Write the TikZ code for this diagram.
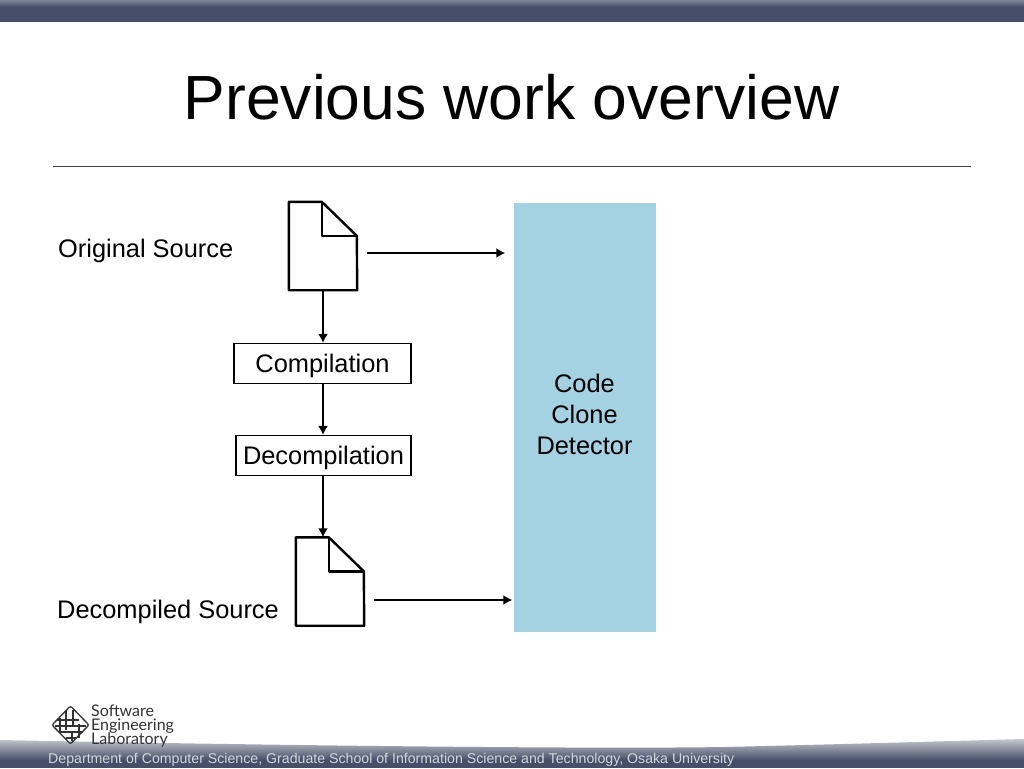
\documentclass[tikz,border=0pt]{standalone}
\usepackage{fontspec}
\setmainfont{Liberation Sans}
\newfontfamily\logofont{Lato}
\usetikzlibrary{calc,arrows.meta}
\definecolor{barblue}{HTML}{464F68}
\definecolor{barlight}{HTML}{7E869C}
\definecolor{fadegrey}{HTML}{C4C7CE}
\definecolor{detectorblue}{HTML}{A5D2E3}
\definecolor{footgrey}{HTML}{D3D6DD}
\tikzset{
  labeltext/.style={font=\fontsize{25.4}{31}\selectfont,inner sep=0pt,align=center},
  stepbox/.style={draw=black,line width=1.1pt,fill=white,labeltext,minimum height=40pt,text height=19pt,text depth=2pt},
  docbox/.style={minimum width=68pt,minimum height=88pt,inner sep=0pt},
  docline/.style={draw=black,line width=2.4pt,line join=round},
  flow/.style={draw=black,line width=2.4pt,-{Latex[length=9pt,width=10pt]}},
  logotext/.style={anchor=base west,inner sep=0pt,text=black!80,font=\logofont\fontsize{16}{14}\selectfont},
}
\newcommand{\docicon}[1]{
  \draw[docline] (#1.north west) -- ++(33,0) -- ++(35,34) -- (#1.south east) -- (#1.south west) -- cycle;
  \draw[docline] ($(#1.north west)+(33,0)$) -- ++(0,34) -- ++(35,0);
}
\begin{document}
\begin{tikzpicture}[x=1pt,y=-1pt]
  \useasboundingbox (0,0) rectangle (1024,768);
  \fill[white] (0,0) rectangle (1024,768);
  % top bar
  \shade[top color=barlight,bottom color=barblue] (0,0) rectangle (1024,7);
  \fill[barblue] (0,7) rectangle (1024,22);
  % bottom band
  \shade[top color=fadegrey,bottom color=barblue] (0,740) .. controls (300,746) and (600,749) .. (724,747) .. controls (850,744) and (950,741) .. (1024,739) -- (1024,760) -- (0,760) -- cycle;
  \fill[barblue] (0,760) rectangle (1024,768);
  % title
  \node (title) at (511.5,97) {\fontsize{62.4}{64}\selectfont Previous work overview};
  \draw[black!75,line width=0.8pt] (53,166) -- (971,166);
  % left column
  \node[labeltext,anchor=west] (original) at (58,250.5) {Original Source};
  \node[labeltext,anchor=west] (decompiled) at (57,611.5) {Decompiled Source};
  \node[docbox] (doca) at (323,246) {};
  \node[docbox] (docb) at (330,581.5) {};
  \docicon{doca}
  \docicon{docb}
  \node[stepbox,minimum width=177pt] (compile) at (322.5,363.5) {Compilation};
  \node[stepbox,minimum width=175pt] (decompile) at (323.5,455.5) {Decompilation};
  % detector
  \node[fill=detectorblue,inner sep=0pt,minimum width=142pt,minimum height=429pt] (detector) at (584.5,417) {};
  \node[labeltext] (detectorlabel) at (584.5,414.8) {Code\\Clone\\Detector};
  % arrows
  \draw[flow] (doca.south) -- (doca.south |- compile.north);
  \draw[flow] (doca.south |- compile.south) -- (doca.south |- decompile.north);
  \draw[flow] (doca.south |- decompile.south) -- (doca.south |- docb.north);
  \draw[flow,shorten <=10pt,shorten >=8pt] (doca.east |- 0,253) -- (detector.west |- 0,253);
  \draw[flow,shorten <=10pt,shorten >=1pt] (docb.east |- 0,600) -- (detector.west |- 0,600);
  % logo
  \begin{scope}[black!80,line width=1.3pt]
    \draw[rounded corners=2pt] (70.5,706) -- (89,725) -- (70.5,744) -- (52,725) -- cycle;
    \draw (66,711) -- (66,730) (73,710) -- (73,727) (60,718) -- (60,733) (79,724) -- (79,738) (72,731) -- (72,741);
    \draw (57,720) -- (79,720) (55,726) -- (86,726) (61,732) -- (83,732) (66,738) -- (76,738);
  \end{scope}
  \node[logotext] (logoa) at (91,716.5) {Software};
  \node[logotext] (logob) at (91,730.5) {Engineering};
  \node[logotext] (logoc) at (91,744.5) {Laboratory};
  % footer
  \node[anchor=base west,inner sep=0pt,text=footgrey,font=\fontsize{14.16}{14}\selectfont] (footer) at (48,763) {Department of Computer Science, Graduate School of Information Science and Technology, Osaka University};
\end{tikzpicture}
\end{document}
